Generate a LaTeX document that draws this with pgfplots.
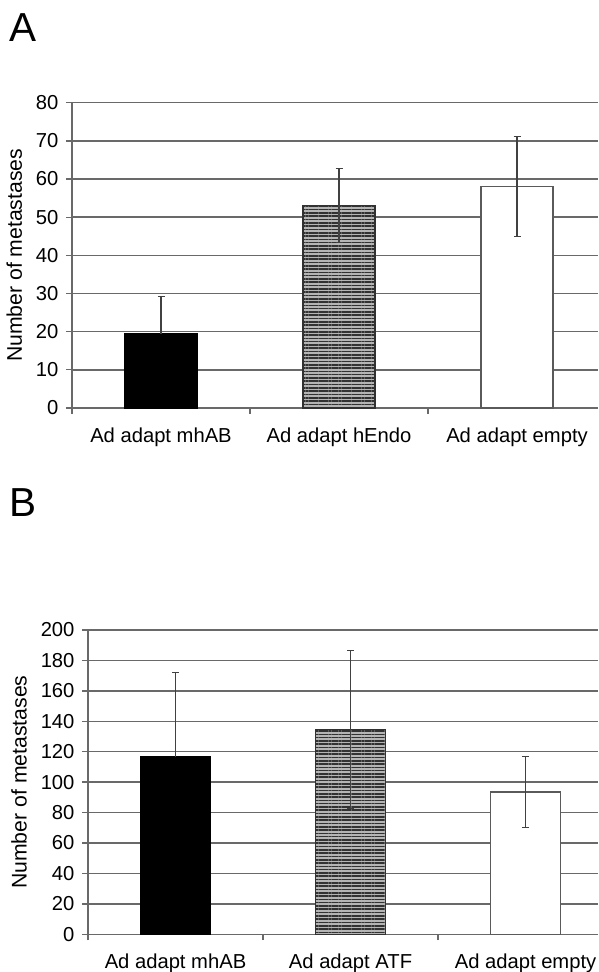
\documentclass[border=0pt]{standalone}
\usepackage{fontspec}
\setmainfont{Liberation Sans}
\usepackage{pgfplots}
\pgfplotsset{compat=1.18}
\usetikzlibrary{patterns.meta}
\definecolor{gridgray}{RGB}{105,105,105}
\definecolor{errgray}{RGB}{65,65,65}
\definecolor{stripebg}{RGB}{180,180,180}
\definecolor{stripe}{RGB}{50,50,50}
\definecolor{edgegray}{RGB}{90,90,90}

\pgfplotsset{
 panel/.style={
  scale only axis, anchor=south west,
  axis lines*=left, axis line style={gridgray, line width=1.3pt},
  ybar, enlargelimits=false,
  xmin=0.5,
  xtick={1,2,3}, minor xtick={0.5,1.5,2.5},
  major tick length=0pt, minor tick length=6pt, tick align=outside,
  tick style={gridgray, line width=1.3pt},
  ymajorgrids, major grid style={gridgray, line width=1.4pt},
  tick label style={font=\fontsize{20.2}{24}\selectfont},
  /pgf/number format/assume math mode=true,
  ylabel={Number of metastases},
  ylabel style={font=\fontsize{21.2}{25}\selectfont},
  yticklabel style={xshift=-10pt},
  clip=false,
 },
 errstyle/.style={/pgfplots/error bars/y explicit, /pgfplots/error bars/y dir=#1,
   /pgfplots/error bars/error bar style={errgray, line width=1.3pt},
   /pgfplots/error bars/error mark options={rotate=90, mark size=3.5pt, errgray, line width=1.3pt}},
 blackbar/.style={fill=black, draw=black, line width=1.3pt, bar shift=0pt},
 stripebar/.style={fill=stripebg, draw=stripe, line width=1.3pt, bar shift=0pt,
   postaction={pattern={Lines[angle=0, distance=3.3pt, line width=1.6pt]}, pattern color=stripe}},
 whitebar/.style={fill=white, draw=edgegray, line width=1.3pt, bar shift=0pt},
}

\begin{document}
\begin{tikzpicture}
\useasboundingbox (0pt,0pt) rectangle (599pt,972pt);
\node[anchor=base west, inner sep=0pt, font=\fontsize{40.5}{48}\selectfont] at (9pt,930pt) {A};
\node[anchor=base west, inner sep=0pt, font=\fontsize{40.5}{48}\selectfont] at (9pt,455pt) {B};

% Panel A
\begin{axis}[panel, at={(72pt,564pt)}, width=526pt, height=305.3pt,
  xmax=3.455, ymin=0, ymax=80, ytick={0,10,...,80}, minor ytick={0,10,...,80},
  ylabel shift=7pt,
  xticklabel style={yshift=-16pt},
  xticklabels={Ad adapt mhAB, Ad adapt hEndo, Ad adapt empty}]
\addplot[blackbar, bar width=0.404, errstyle=plus]
  table[x=x, y=y, y error=e] {
x y e
1 19.4 9.8
};
\addplot[stripebar, bar width=0.404, errstyle=both]
  table[x=x, y=y, y error=e] {
x y e
2 53.0 9.7
};
\addplot[whitebar, bar width=0.404, errstyle=both]
  table[x=x, y=y, y error=e] {
x y e
3 58.0 13.1
};
\end{axis}

% Panel B
\begin{axis}[panel, at={(88pt,37.7pt)}, width=510pt, height=304.3pt,
  xmax=3.414, ymin=0, ymax=200, ytick={0,20,...,200}, minor ytick={0,20,...,200},
  ylabel shift=7pt,
  xticklabel style={yshift=-16pt},
  xticklabels={Ad adapt mhAB, Ad adapt ATF, Ad adapt empty}]
\addplot[blackbar, bar width=0.4, errstyle=plus]
  table[x=x, y=y, y error=e] {
x y e
1 116.8 55.2
};
\addplot[stripebar, bar width=0.4, errstyle=both]
  table[x=x, y=y, y error=e] {
x y e
2 134.8 51.9
};
\addplot[whitebar, bar width=0.4, errstyle=both]
  table[x=x, y=y, y error=e] {
x y e
3 93.6 23.2
};
\end{axis}
\end{tikzpicture}
\end{document}
